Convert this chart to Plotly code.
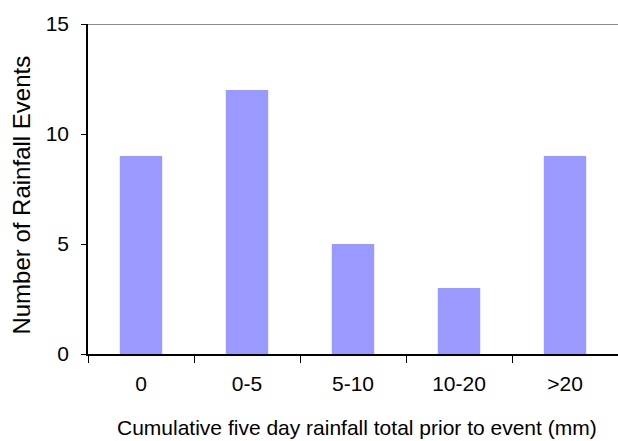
import plotly.graph_objects as go

# Rainfall event counts grouped by cumulative five-day antecedent rainfall
categories = ["0", "0-5", "5-10", "10-20", ">20"]
event_counts = [9, 12, 5, 3, 9]
y_tick_values = [0, 5, 10, 15]

bar_color = "#9999FF"
font_family = "Liberation Sans, Arial, sans-serif"

fig = go.Figure(
    go.Bar(
        x=categories,
        y=event_counts,
        marker=dict(color=bar_color, line=dict(width=0)),
        width=0.4,
    )
)

fig.update_layout(
    width=618,
    height=441,
    margin=dict(l=88, r=0, t=24, b=87),
    paper_bgcolor="white",
    plot_bgcolor="white",
    showlegend=False,
    font=dict(family=font_family, size=21, color="black"),
    xaxis=dict(
        type="category",
        showgrid=False,
        showline=True,
        linecolor="black",
        linewidth=1.5,
        ticks="outside",
        tickson="boundaries",
        ticklen=7,
        tickwidth=1.2,
        tickcolor="black",
        tickfont=dict(size=21),
        ticklabelstandoff=10,
    ),
    yaxis=dict(
        range=[0, 15],
        tickvals=y_tick_values,
        showgrid=False,
        zeroline=False,
        showline=True,
        linecolor="black",
        linewidth=1.5,
        ticks="outside",
        ticklen=5,
        tickwidth=1.2,
        tickcolor="black",
        tickfont=dict(size=21),
        ticklabelstandoff=8,
    ),
    shapes=[
        dict(
            type="line",
            xref="paper",
            yref="y",
            x0=0,
            x1=1,
            y0=15,
            y1=15,
            line=dict(color="#8c8c8c", width=2),
        )
    ],
    annotations=[
        dict(
            text="Number of Rainfall Events",
            xref="paper",
            yref="paper",
            x=-88 / 530 + 22 / 530,
            y=0.48,
            textangle=-90,
            showarrow=False,
            xanchor="center",
            yanchor="middle",
            font=dict(size=24),
        ),
        dict(
            text="Cumulative five day rainfall total prior to event (mm)",
            xref="paper",
            yref="paper",
            x=(357 - 88) / 530,
            y=-(428 - 354) / 330,
            showarrow=False,
            xanchor="center",
            yanchor="middle",
            font=dict(size=21),
        ),
    ],
)

fig.write_html("out.html")
